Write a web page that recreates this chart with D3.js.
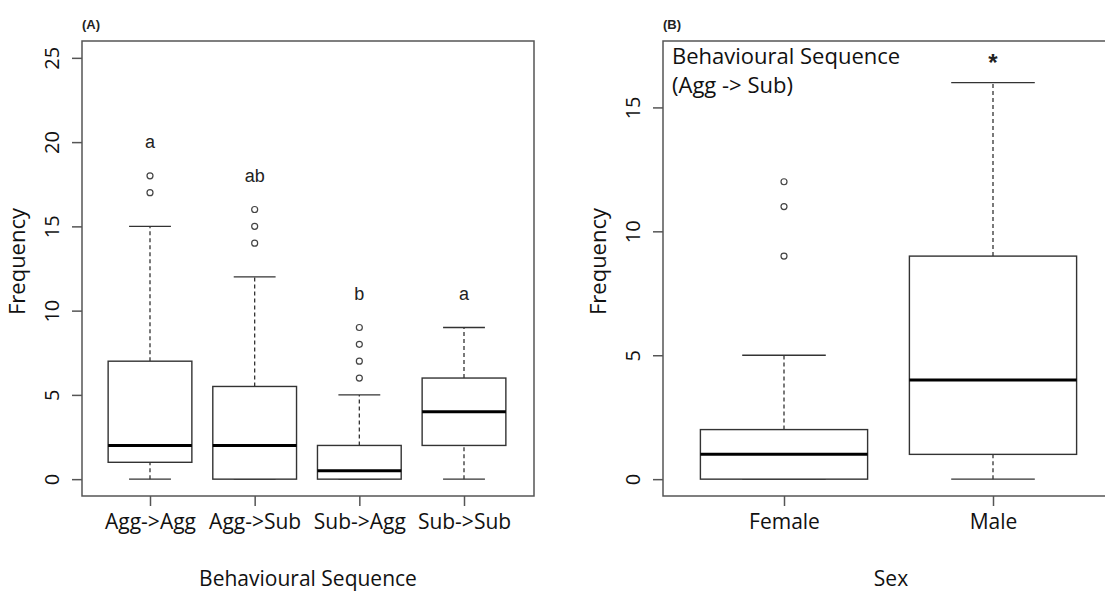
<!DOCTYPE html>
<html>
<head>
<meta charset="utf-8">
<script src="https://cdn.jsdelivr.net/npm/d3@7"></script>
<style>
  body { margin: 0; background: #fff; }
  svg { display: block; }
</style>
</head>
<body>
<div id="chart"></div>
<script>
// Panel A: frequency by behavioural sequence
const seqCats = ["Agg->Agg", "Agg->Sub", "Sub->Agg", "Sub->Sub"]
const seqMin = [0, 0, 0, 0]
const seqQ1 = [1, 0, 0, 2]
const seqMed = [2, 2, 0.5, 4]
const seqQ3 = [7, 5.5, 2, 6]
const seqMax = [15, 12, 5, 9]
const seqOut = [[17, 18], [14, 15, 16], [6, 7, 8, 9], []]
const seqLetters = ["a", "ab", "b", "a"]
const seqLetterAt = [20, 18, 11, 11]
const seqTicks = [0, 5, 10, 15, 20, 25]

// Panel B: Agg -> Sub frequency by sex
const sexCats = ["Female", "Male"]
const sexMin = [0, 0]
const sexQ1 = [0, 1]
const sexMed = [1, 4]
const sexQ3 = [2, 9]
const sexMax = [5, 16]
const sexOut = [[9, 11, 12], []]
const sexLetters = ["", "*"]
const sexLetterAt = [null, 17]
const sexTicks = [0, 5, 10, 15]
const noteLines = ["Behavioural Sequence", "(Agg -> Sub)"]

const width = 1105, height = 591
const svg = d3.select("#chart").append("svg")
    .attr("width", width)
    .attr("height", height)

svg.append("rect").attr("width", width).attr("height", height).attr("fill", "#fff")

const sansFont = "'Open Sans', 'Noto Sans', sans-serif"

function boxpanel({ cats, mins, q1, med, q3, maxs, outs, letters, letterAt, ticks,
    yDomain, left, right, top, bottom, xRange, panelLabel, xTitle, letterSize, letterDy }) {

    const g = svg.append("g")

    const x = d3.scalePoint().domain(cats).range(xRange)
    const y = d3.scaleLinear().domain(yDomain).range([bottom, top])
    const bw = x.step() * 0.8

    const rows = cats.map((c, i) => ({
        cat: c, min: mins[i], q1: q1[i], med: med[i], q3: q3[i], max: maxs[i],
        out: outs[i], letter: letters[i], at: letterAt[i]
    }))

    // whiskers (dashed)
    g.append("g").selectAll("line")
        .data(rows.flatMap(d => [[d.cat, d.q3, d.max], [d.cat, d.min, d.q1]]))
        .join("line")
        .attr("x1", d => x(d[0])).attr("x2", d => x(d[0]))
        .attr("y1", d => y(d[1])).attr("y2", d => y(d[2]))
        .attr("stroke", "#333").attr("stroke-width", 1.3)
        .attr("stroke-dasharray", "4,3")

    // caps
    g.append("g").selectAll("line")
        .data(rows.flatMap(d => [[d.cat, d.max], [d.cat, d.min]]))
        .join("line")
        .attr("x1", d => x(d[0]) - bw / 4).attr("x2", d => x(d[0]) + bw / 4)
        .attr("y1", d => y(d[1])).attr("y2", d => y(d[1]))
        .attr("stroke", "#333").attr("stroke-width", 1.3)

    // boxes
    g.append("g").selectAll("rect")
        .data(rows)
        .join("rect")
        .attr("x", d => x(d.cat) - bw / 2)
        .attr("width", bw)
        .attr("y", d => y(d.q3))
        .attr("height", d => y(d.q1) - y(d.q3))
        .attr("fill", "#fff")
        .attr("stroke", "#333").attr("stroke-width", 1.4)

    // medians
    g.append("g").selectAll("line")
        .data(rows)
        .join("line")
        .attr("x1", d => x(d.cat) - bw / 2).attr("x2", d => x(d.cat) + bw / 2)
        .attr("y1", d => y(d.med)).attr("y2", d => y(d.med))
        .attr("stroke", "#000").attr("stroke-width", 3)

    // outliers
    g.append("g").selectAll("circle")
        .data(rows.flatMap(d => d.out.map(v => [d.cat, v])))
        .join("circle")
        .attr("cx", d => x(d[0])).attr("cy", d => y(d[1]))
        .attr("r", 3)
        .attr("fill", "none").attr("stroke", "#444").attr("stroke-width", 1.2)

    // significance letters
    g.append("g").selectAll("text")
        .data(rows.filter(d => d.letter))
        .join("text")
        .attr("x", d => x(d.cat)).attr("y", d => y(d.at))
        .attr("dy", letterDy)
        .attr("text-anchor", "middle")
        .attr("font-family", "'Liberation Sans', Arial, sans-serif")
        .attr("font-size", letterSize)
        .attr("font-weight", d => d.letter == "*" ? "bold" : "normal")
        .attr("fill", "#222")
        .text(d => d.letter)

    // frame
    g.append("rect")
        .attr("x", left).attr("y", top)
        .attr("width", right - left).attr("height", bottom - top)
        .attr("fill", "none").attr("stroke", "#555").attr("stroke-width", 1.5)

    // y axis
    g.append("g")
        .attr("transform", `translate(${left},0)`)
        .call(d3.axisLeft(y).tickValues(ticks).tickSize(10).tickSizeOuter(0))
        .call(a => a.select(".domain").remove())
        .call(a => a.selectAll(".tick line").attr("stroke", "#555").attr("stroke-width", 1.5))
        .call(a => a.selectAll(".tick text")
            .attr("transform", "rotate(-90)")
            .attr("x", 0).attr("y", -23).attr("dy", 0)
            .attr("text-anchor", "middle")
            .attr("font-family", sansFont)
            .attr("font-size", 20)
            .attr("fill", "#111"))

    // x axis
    g.append("g")
        .attr("transform", `translate(0,${bottom})`)
        .call(d3.axisBottom(x).tickSize(10).tickSizeOuter(0))
        .call(a => a.select(".domain").remove())
        .call(a => a.selectAll(".tick line").attr("stroke", "#555").attr("stroke-width", 1.5))
        .call(a => a.selectAll(".tick text")
            .attr("y", 33).attr("dy", 0)
            .attr("font-family", sansFont)
            .attr("font-size", 21)
            .attr("fill", "#111"))

    // titles
    g.append("text")
        .attr("x", (left + right) / 2).attr("y", bottom + 90)
        .attr("text-anchor", "middle")
        .attr("font-family", sansFont).attr("font-size", 21)
        .attr("fill", "#111")
        .text(xTitle)

    g.append("text")
        .attr("transform", `translate(${left - 57},${(top + bottom) / 2 - 7}) rotate(-90)`)
        .attr("text-anchor", "middle")
        .attr("font-family", sansFont).attr("font-size", 22)
        .attr("fill", "#111")
        .text("Frequency")

    g.append("text")
        .attr("x", left).attr("y", top - 12)
        .attr("font-family", "'Liberation Sans', Arial, sans-serif")
        .attr("font-size", 13).attr("font-weight", "bold")
        .attr("fill", "#222")
        .text(panelLabel)

    return g
}

boxpanel({
    cats: seqCats, mins: seqMin, q1: seqQ1, med: seqMed, q3: seqQ3, maxs: seqMax,
    outs: seqOut, letters: seqLetters, letterAt: seqLetterAt, ticks: seqTicks,
    yDomain: [-1, 26], left: 82, right: 534, top: 41, bottom: 496,
    xRange: [150, 464], panelLabel: "(A)", xTitle: "Behavioural Sequence",
    letterSize: 18, letterDy: "0.32em"
})

const pb = boxpanel({
    cats: sexCats, mins: sexMin, q1: sexQ1, med: sexMed, q3: sexQ3, maxs: sexMax,
    outs: sexOut, letters: sexLetters, letterAt: sexLetterAt, ticks: sexTicks,
    yDomain: [-0.68, 17.68], left: 663, right: 1119, top: 41, bottom: 496,
    xRange: [784, 993], panelLabel: "(B)", xTitle: "Sex",
    letterSize: 24, letterDy: "0.55em"
})

// annotation inside panel B, one text per line
pb.append("g").selectAll("text")
    .data(noteLines)
    .join("text")
    .attr("x", 672)
    .attr("y", (d, i) => 64 + i * 29)
    .attr("font-family", sansFont).attr("font-size", 22)
    .attr("fill", "#111")
    .text(d => d)
</script>
</body>
</html>
